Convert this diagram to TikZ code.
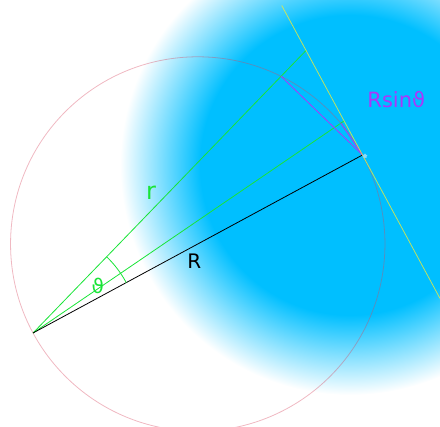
\documentclass[tikz,border=0pt]{standalone}
\usepackage{fontspec}
\setmainfont{DejaVu Sans}
\usetikzlibrary{calc, angles, shapes.geometric}

\definecolor{skyblue}{RGB}{0,191,255}
\definecolor{lightgreen}{RGB}{25,228,55}
\definecolor{violetline}{RGB}{170,55,250}
\definecolor{tangentline}{RGB}{235,235,60}
\definecolor{circlered}{RGB}{215,70,95}
\pgfdeclareradialshading{skyblob}{\pgfpoint{0bp}{0bp}}{color(0bp)=(skyblue); color(16.3bp)=(skyblue); color(20.6bp)=(skyblue!50!white); color(25bp)=(white); color(50bp)=(white)}

\begin{document}
\begin{tikzpicture}[x=1pt, y=1pt,
    thin line/.style={line width=0.8pt},
    greenline/.style={thin line, lightgreen},
    chord/.style={thin line, violetline}]
            \useasboundingbox (0,0) rectangle (440,427);
            \begin{scope}
                \clip (0,0) rectangle (440,427);
                \shade[shading=skyblob] (350,262) circle (230);
            \end{scope}
            % points
            \coordinate (O) at (33,94);
            \coordinate (P) at (362.5,272);
            \coordinate (C) at ($(O)!0.5!(P)$);
            \coordinate (rend) at ($(O)!1.0492!17.6:(P)$);
            \coordinate (mend) at ($(O)!1.0053!5.9:(P)$);
            \coordinate (A) at ($(O)!0.9532!17.6:(P)$);
            \coordinate (B) at ($(O)!0.9947!5.9:(P)$);
            \coordinate (ttop) at ($(P)!170pt!-90:(O)$);
            \coordinate (tbot) at ($(P)!163pt!90:(O)$);
            % circle through O and P
            \draw[thin line, circlered, draw opacity=0.38] (C) circle (187.2);
            \draw[greenline] (O) -- (rend);
            \draw[greenline] (O) -- (mend);
            \draw[thin line, black] (O) -- (P);
            \draw[chord] (A) -- (P);
            \draw[chord] (B) -- (P);
            \draw[thin line, tangentline, draw opacity=0.8] (ttop) -- (tbot);
            \pic[draw=lightgreen, thin line, angle radius=106pt] {angle = P--O--rend};
            \node[star, star points=5, fill=cyan!45, minimum size=5pt, inner sep=0pt] (mark) at ($(P)+(2.5,-1)$) {};
            % labels
            \node[lightgreen, font=\fontsize{24}{24}\selectfont] (lr) at (151,234.3) {r};
            \node[black, font=\fontsize{20}{20}\selectfont] (lR) at (194.3,165.3) {R};
            \node[lightgreen, font=\fontsize{20}{20}\selectfont] (lth) at (97.7,141) {ϑ};
            \node[violetline, font=\fontsize{21}{21}\selectfont] (lrs) at (396.3,327.7) {Rsinϑ};
        \end{tikzpicture}
\end{document}
